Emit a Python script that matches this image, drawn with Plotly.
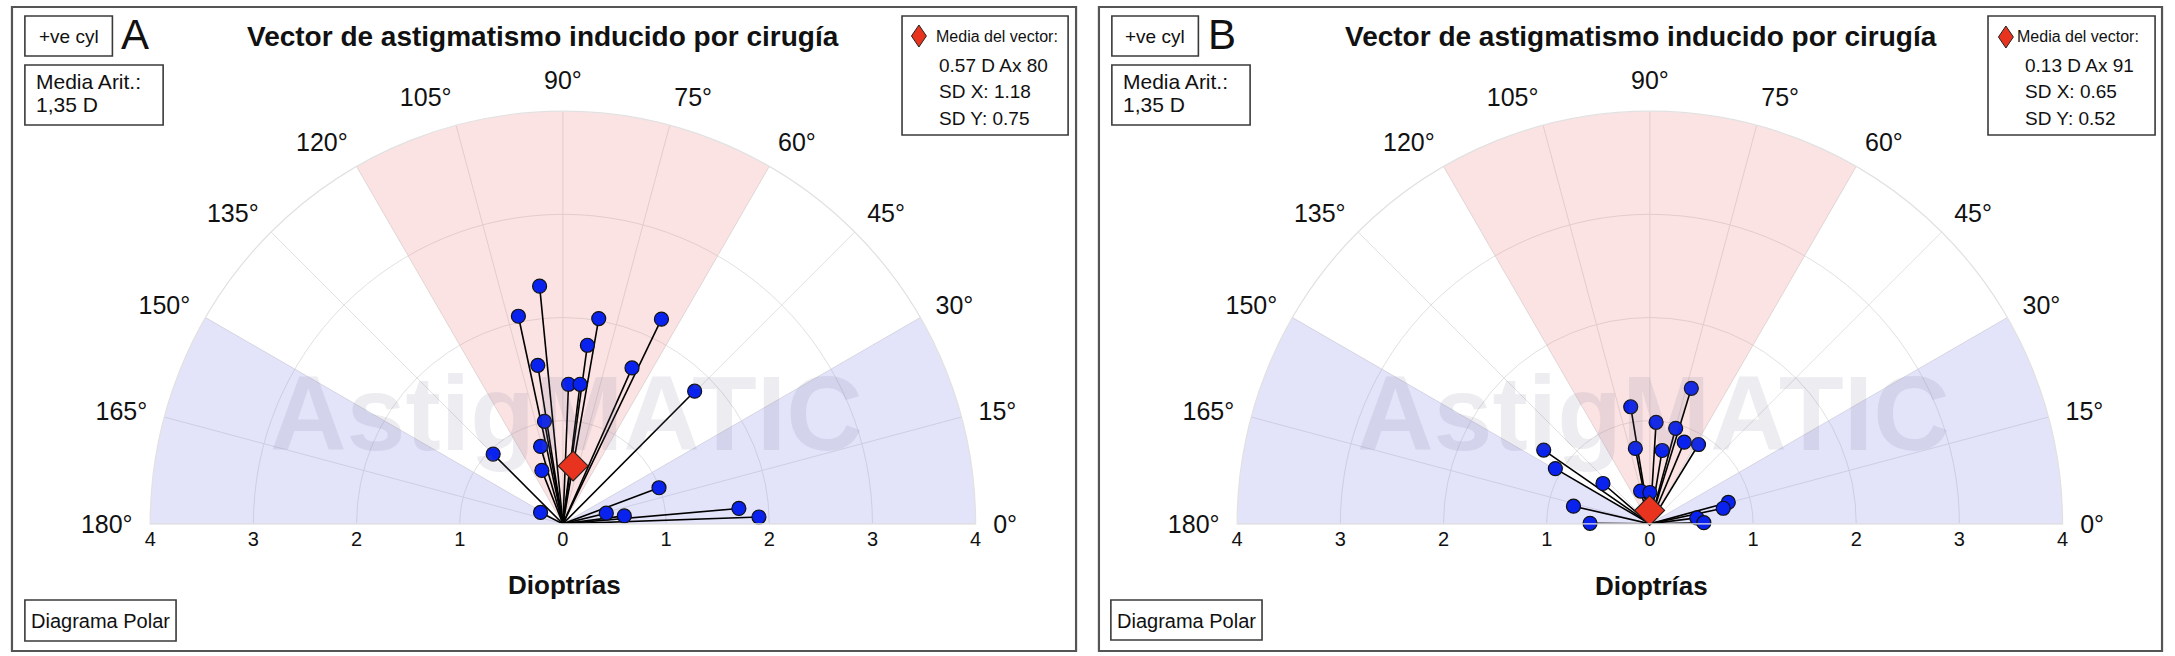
import plotly.graph_objects as go

W, H = 2175, 656

# ---------------- data ----------------
angle_ticks = [0, 15, 30, 45, 60, 75, 90, 105, 120, 135, 150, 165, 180]
angle_labels = ["0°", "15°", "30°", "45°", "60°", "75°", "90°", "105°", "120°",
                "135°", "150°", "165°", "180°"]
radial_ticks = [1, 2, 3, 4]
x_ticks = [-4, -3, -2, -1, 0, 1, 2, 3, 4]
x_labels = ["4", "3", "2", "1", "0", "1", "2", "3", "4"]

zone_theta = [90, 15, 165]
zone_width = [60, 30, 30]
zone_r = [4, 4, 4]

# Panel A: individual vectors (magnitude D, axis deg)
a_r = [2.315, 2.058, 2.020, 2.202, 1.747, 1.556, 1.653, 1.354, 1.363, 1.812,
       1.010, 0.781, 0.956, 0.557, 0.995, 0.243, 0.433, 0.600, 1.712, 1.901]
a_theta = [95.6, 102.1, 80.1, 64.3, 82.2, 99.0, 66.1, 87.7, 83.0, 45.2,
           100.2, 106.1, 135.0, 111.5, 20.6, 153.0, 13.8, 7.4, 5.0, 2.0]
a_mean_r = [0.57]
a_mean_theta = [80]
a_stats = ["0.57 D Ax 80", "SD X: 1.18", "SD Y: 0.75"]

# Panel B
b_r = [1.374, 1.150, 0.986, 0.959, 0.859, 0.902, 0.744, 0.721, 1.253, 1.061,
       0.600, 0.330, 0.304, 0.760, 0.580, 0.788, 0.727, 0.459, 0.523]
b_theta = [73.0, 99.3, 86.5, 74.9, 67.2, 58.5, 100.9, 80.5, 145.2, 149.7,
           139.3, 105.8, 90.0, 167.0, 179.5, 15.3, 12.0, 7.2, 1.2]
b_mean_r = [0.13]
b_mean_theta = [91]
b_stats = ["0.13 D Ax 91", "SD X: 0.65", "SD Y: 0.52"]

title_text = "Vector de astigmatismo inducido por cirugía"
arith_lines = ["Media Arit.:", "1,35 D"]
legend_text = "Media del vector:"
cyl_text = "+ve cyl"
diag_text = "Diagrama Polar"
xaxis_title = "Dioptrías"
watermark = "AstigMATIC"

FONT = "Liberation Sans, Arial, Helvetica, sans-serif"
BLUE = "#0a22ee"
RED = "#e8341f"


def X(p):
    return p / W


def Y(p):
    return 1 - p / H


panels = [
    dict(letter="A", polar="polar", xa="x", ya="y", xk="xaxis", yk="yaxis", cx=560,
         r=a_r, th=a_theta, mr=a_mean_r, mt=a_mean_theta, stats=a_stats,
         border=(6, 7, 1076, 651), cyl_box=(19, 16, 107, 56), letter_x=114,
         media_box=(19, 65, 158, 125), title_x=540, vec_box=(901, 16, 1068, 135),
         diamond=(918, 36), vec_label_x=933, vec_val_x=936,
         diag_box=(19, 600, 171, 641), diop=(562, 585)),
    dict(letter="B", polar="polar2", xa="x2", ya="y2", xk="xaxis2", yk="yaxis2", cx=1653,
         r=b_r, th=b_theta, mr=b_mean_r, mt=b_mean_theta, stats=b_stats,
         border=(1099, 7, 2168, 651), cyl_box=(1112, 16, 1199, 56), letter_x=1207,
         media_box=(1112, 65, 1251, 125), title_x=1644, vec_box=(1993, 16, 2161, 135),
         diamond=(2011, 37), vec_label_x=2020, vec_val_x=2028,
         diag_box=(1111, 600, 1263, 640), diop=(1655, 586)),
]

R_PX = 415
BASE_Y = 525

fig = go.Figure()
shapes = []
annotations = []
layout = {}

for p in panels:
    # shaded zones
    fig.add_trace(go.Barpolar(
        r=zone_r, theta=zone_theta, width=zone_width,
        marker=dict(color=["rgba(238,140,140,0.24)", "rgba(150,150,238,0.27)",
                           "rgba(150,150,238,0.27)"], line=dict(width=0)),
        subplot=p["polar"], hoverinfo="skip", showlegend=False))
    # vector lines from origin
    lr, lt = [], []
    for rr, tt in zip(p["r"], p["th"]):
        lr += [0, rr, None]
        lt += [tt, tt, None]
    fig.add_trace(go.Scatterpolar(
        r=lr, theta=lt, mode="lines", line=dict(color="black", width=1.6),
        subplot=p["polar"], hoverinfo="skip", showlegend=False))
    # points
    fig.add_trace(go.Scatterpolar(
        r=p["r"], theta=p["th"], mode="markers",
        marker=dict(color=BLUE, size=14, line=dict(color="#111", width=1.2)),
        subplot=p["polar"], showlegend=False))
    # mean vector
    fig.add_trace(go.Scatterpolar(
        r=p["mr"], theta=p["mt"], mode="markers",
        marker=dict(symbol="diamond", color=RED, size=23, line=dict(color="#222", width=1.2)),
        subplot=p["polar"], showlegend=False))
    # cartesian axis for diopter scale
    fig.add_trace(go.Scatter(
        x=x_ticks, y=[0] * len(x_ticks), xaxis=p["xa"], yaxis=p["ya"], mode="markers",
        marker=dict(opacity=0, size=1), hoverinfo="skip", showlegend=False))

    x0d, x1d = X(p["cx"] - R_PX), X(p["cx"] + R_PX)
    y0d, y1d = Y(BASE_Y), Y(BASE_Y - R_PX)
    layout[p["polar"]] = dict(
        domain=dict(x=[x0d, x1d], y=[y0d, y1d]),
        sector=[0, 180], bgcolor="rgba(0,0,0,0)",
        radialaxis=dict(range=[0, 4], tickvals=radial_ticks, showticklabels=False,
                        ticks="", showline=False, gridcolor="#e1e1e1", gridwidth=1.2),
        angularaxis=dict(direction="counterclockwise", rotation=0, tickmode="array",
                         tickvals=angle_ticks, ticktext=angle_labels,
                         tickfont=dict(size=25, color="#111", family=FONT),
                         ticks="outside", ticklen=12, tickcolor="rgba(0,0,0,0)",
                         showline=True, linecolor="#e1e1e1", linewidth=1.2,
                         gridcolor="#e1e1e1", gridwidth=1.2),
    )
    layout[p["xk"]] = dict(domain=[x0d, x1d], range=[-4, 4], tickmode="array",
                           tickvals=x_ticks, ticktext=x_labels, showgrid=False,
                           zeroline=False, showline=False, ticks="",
                           anchor=p["ya"],
                           tickfont=dict(size=20, color="#111", family=FONT),
                           fixedrange=True)
    layout[p["yk"]] = dict(domain=[y0d, y1d], range=[0, 1], visible=False,
                           anchor=p["xa"], fixedrange=True)

    # panel border
    bx0, by0, bx1, by1 = p["border"]
    shapes.append(dict(type="rect", xref="paper", yref="paper", x0=X(bx0), x1=X(bx1),
                       y0=Y(by1), y1=Y(by0), line=dict(color="#555", width=2.2)))
    # text boxes
    for key in ["cyl_box", "media_box", "vec_box", "diag_box"]:
        a, b, c, d = p[key]
        shapes.append(dict(type="rect", xref="paper", yref="paper", x0=X(a), x1=X(c),
                           y0=Y(d), y1=Y(b), line=dict(color="#3a3a3a", width=1.6)))
    # legend diamond
    dx, dy = p["diamond"]
    path = "M {:.6f},{:.6f} L {:.6f},{:.6f} L {:.6f},{:.6f} L {:.6f},{:.6f} Z".format(
        X(dx), Y(dy - 11), X(dx + 7.5), Y(dy), X(dx), Y(dy + 11), X(dx - 7.5), Y(dy))
    shapes.append(dict(type="path", xref="paper", yref="paper", path=path,
                       fillcolor=RED, line=dict(color="#222", width=1)))

    def ann(text, x, y, size, xanchor="left", bold=False, color="#111"):
        annotations.append(dict(text=("<b>%s</b>" % text) if bold else text,
                                x=X(x), y=Y(y), xref="paper", yref="paper",
                                xanchor=xanchor, yanchor="middle", showarrow=False,
                                font=dict(size=size, color=color, family=FONT)))

    cb = p["cyl_box"]
    ann(cyl_text, (cb[0] + cb[2]) / 2, 36, 19, "center")
    ann(p["letter"], p["letter_x"], 34, 42, "left")
    mb = p["media_box"]
    ann(arith_lines[0], mb[0] + 9, 81, 21)
    ann(arith_lines[1], mb[0] + 9, 105, 21)
    ann(title_text, p["title_x"], 36, 28, "center", bold=True)
    ann(legend_text, p["vec_label_x"], 36, 16)
    for i, s in enumerate(p["stats"]):
        ann(s, p["vec_val_x"], 65 + i * 26.5, 19)
    db = p["diag_box"]
    ann(diag_text, (db[0] + db[2]) / 2, 621, 20, "center")
    ann(xaxis_title, p["diop"][0], p["diop"][1], 26, "center", bold=True)
    ann("<b>%s</b>" % watermark, p["cx"] + 4, 413, 106, "center",
        color="rgba(110,110,150,0.13)")

fig.update_layout(
    width=W, height=H, margin=dict(l=0, r=0, t=0, b=0),
    paper_bgcolor="white", plot_bgcolor="rgba(0,0,0,0)",
    font=dict(family=FONT, color="#111"),
    showlegend=False, shapes=shapes, annotations=annotations,
    **layout,
)

fig.write_html("out.html", config={"displayModeBar": False},
               post_script="document.body.style.margin='0';document.body.style.overflow='hidden';")
